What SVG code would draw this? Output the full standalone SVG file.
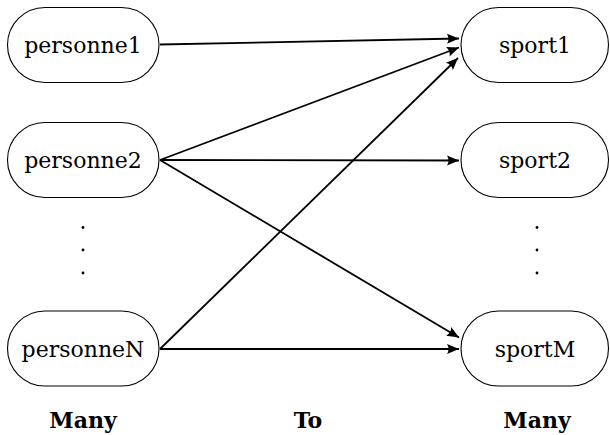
<svg xmlns="http://www.w3.org/2000/svg" width="610" height="435" viewBox="0 0 610 435">
<defs>
<style>
.node rect{fill:#fff;stroke:#000;stroke-width:1.1}
.node text{font-family:"DejaVu Serif",serif;font-size:22px;text-anchor:middle;fill:#000}
.lbl{font-family:"DejaVu Serif",serif;font-size:22px;font-weight:bold;text-anchor:middle;fill:#000}
.conn line{stroke:#000;stroke-width:1.8;marker-end:url(#ah)}
.dot{fill:#000}
</style>
<marker id="ah" viewBox="-13 -6 14 12" refX="0" refY="0" markerWidth="14" markerHeight="12" markerUnits="userSpaceOnUse" orient="auto">
<path d="M0,0 L-12,-5 Q-9,0 -12,5 Z" fill="#000"/>
</marker>
</defs>
<rect width="610" height="435" fill="#fff"/>
<g id="personne1" class="node"><rect x="7.5" y="7.5" width="151.5" height="75" rx="37.5" ry="37.5"/><text x="83" y="53">personne1</text></g>
<g id="personne2" class="node"><rect x="7.5" y="122.5" width="151.5" height="75" rx="37.5" ry="37.5"/><text x="83" y="168">personne2</text></g>
<g id="personneN" class="node"><rect x="7.5" y="311" width="151.5" height="75" rx="37.5" ry="37.5"/><text x="83" y="357">personneN</text></g>
<g id="sport1" class="node"><rect x="461" y="7.5" width="147.5" height="75" rx="37.5" ry="37.5"/><text x="535" y="53">sport1</text></g>
<g id="sport2" class="node"><rect x="461" y="122.5" width="147.5" height="75" rx="37.5" ry="37.5"/><text x="535" y="168">sport2</text></g>
<g id="sportM" class="node"><rect x="461" y="311" width="147.5" height="75" rx="37.5" ry="37.5"/><text x="535" y="357">sportM</text></g>
<g id="dots">
<circle class="dot" cx="83" cy="227.5" r="1.4"/><circle class="dot" cx="83" cy="250" r="1.4"/><circle class="dot" cx="83" cy="273" r="1.4"/>
<circle class="dot" cx="537" cy="227.5" r="1.4"/><circle class="dot" cx="537" cy="250" r="1.4"/><circle class="dot" cx="537" cy="273" r="1.4"/>
</g>
<g id="connectors" class="conn">
<line x1="160" y1="44.5" x2="459" y2="38.5"/>
<line x1="160" y1="160" x2="459" y2="47.5"/>
<line x1="160" y1="160" x2="459" y2="160.5"/>
<line x1="160" y1="160" x2="459" y2="337.5"/>
<line x1="160" y1="349" x2="458" y2="58"/>
<line x1="160" y1="349" x2="459" y2="349"/>
</g>
<text class="lbl" x="83" y="428">Many</text>
<text class="lbl" x="308" y="428">To</text>
<text class="lbl" x="537" y="428">Many</text>
</svg>
